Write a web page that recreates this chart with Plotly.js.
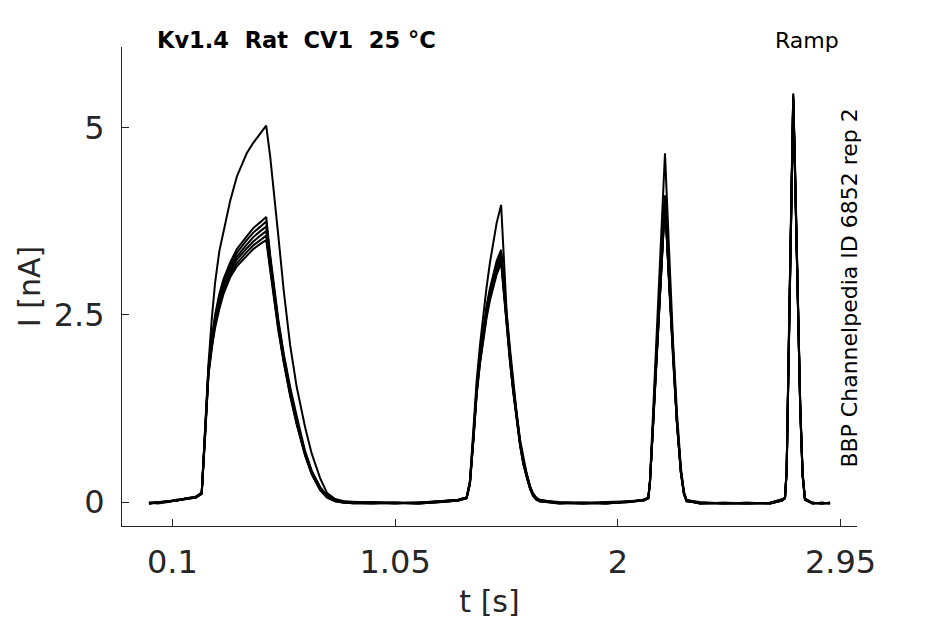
<!DOCTYPE html>
<html>
<head>
<meta charset="utf-8">
<script src="https://cdn.plot.ly/plotly-3.0.1.min.js"></script>
<style>
  body { margin: 0; background: #fff; }
  #chart { width: 945px; height: 624px; }
</style>
</head>
<body>
<div id="chart"></div>
<script>
// shared time base [s]
var t = [
  0.0, 0.04, 0.08, 0.12, 0.16, 0.2, 0.225,
  0.239, 0.254, 0.268, 0.282, 0.3, 0.318, 0.346, 0.375, 0.417, 0.445, 0.475, 0.5,
  0.517, 0.535, 0.552, 0.575, 0.602, 0.63, 0.666, 0.694, 0.73, 0.76, 0.794, 0.83, 0.87,
  0.95, 1.05, 1.15, 1.25, 1.32, 1.355,
  1.369, 1.384, 1.398, 1.412, 1.426, 1.44, 1.454, 1.468, 1.483, 1.502,
  1.514, 1.526, 1.54, 1.553, 1.568, 1.583, 1.597, 1.611, 1.625, 1.638, 1.652, 1.667,
  1.75, 1.85, 1.95, 2.05, 2.11, 2.13,
  2.137, 2.151, 2.165, 2.183, 2.201,
  2.218, 2.236, 2.252, 2.269, 2.282, 2.293,
  2.35, 2.45, 2.55, 2.65, 2.7, 2.713,
  2.72, 2.731, 2.74, 2.748,
  2.755, 2.762, 2.769, 2.778, 2.788, 2.798,
  2.83, 2.87, 2.905
];

// current sweeps [nA]
var sweep1 = [
  -0.02, -0.01, 0.0, 0.02, 0.04, 0.06, 0.12,
  0.92, 1.85, 2.45, 2.93, 3.35, 3.62, 4.02, 4.35, 4.66, 4.8, 4.93, 5.03,
  4.62, 4.1, 3.55, 2.82, 2.1, 1.54, 1.0, 0.65, 0.32, 0.12, 0.04, 0.01, 0.0,
  -0.01, -0.02, -0.01, 0.01, 0.03, 0.06,
  0.29, 0.95, 1.63, 2.1, 2.52, 2.87, 3.19, 3.47, 3.73, 3.97,
  3.25, 2.52, 2.05, 1.63, 1.2, 0.83, 0.58, 0.38, 0.22, 0.12, 0.06, 0.03,
  -0.01, -0.02, -0.01, 0.0, 0.03, 0.06,
  0.3, 1.25, 2.3, 3.5, 4.66,
  3.4, 2.1, 1.2, 0.45, 0.14, 0.03,
  -0.01, -0.02, -0.02, -0.01, 0.02, 0.05,
  0.45, 2.52, 4.0, 5.46,
  4.6, 3.5, 2.52, 1.3, 0.4, 0.05,
  -0.01, -0.02, -0.01
];
var sweep2 = [
  -0.01, 0.0, 0.01, 0.02, 0.05, 0.07, 0.13,
  0.9, 1.8, 2.2, 2.5, 2.78, 2.98, 3.2, 3.38, 3.55, 3.66, 3.74, 3.81,
  3.3, 2.85, 2.43, 1.98, 1.54, 1.15, 0.68, 0.42, 0.2, 0.09, 0.03, 0.01, -0.01,
  0.0, -0.01, -0.02, 0.0, 0.02, 0.05,
  0.27, 0.9, 1.55, 1.98, 2.33, 2.62, 2.85, 3.05, 3.22, 3.37,
  2.9, 2.42, 1.98, 1.58, 1.17, 0.8, 0.55, 0.36, 0.21, 0.11, 0.05, 0.02,
  0.0, -0.01, -0.02, 0.01, 0.03, 0.05,
  0.28, 1.1, 2.05, 3.05, 4.1,
  3.05, 1.95, 1.1, 0.42, 0.12, 0.02,
  0.0, -0.02, -0.01, -0.02, 0.02, 0.05,
  0.44, 2.45, 3.95, 5.44,
  4.55, 3.45, 2.48, 1.28, 0.38, 0.04,
  -0.02, -0.01, -0.02
];
var sweep3 = [
  -0.02, -0.01, 0.01, 0.03, 0.04, 0.06, 0.12,
  0.88, 1.78, 2.17, 2.46, 2.74, 2.94, 3.16, 3.33, 3.5, 3.6, 3.68, 3.75,
  3.27, 2.82, 2.4, 1.95, 1.5, 1.1, 0.66, 0.41, 0.19, 0.08, 0.02, 0.0, -0.01,
  -0.01, -0.02, -0.01, 0.01, 0.03, 0.06,
  0.26, 0.88, 1.52, 1.95, 2.3, 2.58, 2.81, 3.0, 3.17, 3.33,
  2.87, 2.4, 1.95, 1.56, 1.15, 0.79, 0.54, 0.35, 0.2, 0.1, 0.05, 0.02,
  -0.01, -0.01, -0.02, 0.0, 0.02, 0.06,
  0.28, 1.08, 2.03, 3.02, 4.08,
  3.03, 1.93, 1.08, 0.41, 0.12, 0.02,
  -0.02, -0.01, -0.02, -0.01, 0.03, 0.06,
  0.43, 2.43, 3.93, 5.42,
  4.52, 3.43, 2.46, 1.27, 0.37, 0.04,
  -0.01, -0.02, -0.01
];
var sweep4 = [
  -0.01, -0.02, 0.0, 0.02, 0.04, 0.07, 0.12,
  0.86, 1.76, 2.14, 2.42, 2.7, 2.9, 3.12, 3.28, 3.44, 3.54, 3.62, 3.68,
  3.22, 2.78, 2.37, 1.92, 1.48, 1.08, 0.65, 0.4, 0.18, 0.07, 0.02, 0.0, -0.01,
  -0.02, -0.01, -0.02, 0.0, 0.02, 0.05,
  0.25, 0.86, 1.5, 1.92, 2.27, 2.55, 2.78, 2.97, 3.13, 3.3,
  2.84, 2.37, 1.93, 1.54, 1.13, 0.78, 0.53, 0.34, 0.2, 0.1, 0.04, 0.01,
  -0.02, -0.01, -0.01, 0.01, 0.02, 0.05,
  0.27, 1.07, 2.01, 3.0, 4.06,
  3.0, 1.91, 1.07, 0.4, 0.11, 0.01,
  -0.01, -0.02, -0.01, -0.02, 0.02, 0.05,
  0.42, 2.41, 3.9, 5.4,
  4.5, 3.41, 2.44, 1.25, 0.36, 0.03,
  -0.02, -0.01, -0.02
];
var sweep5 = [
  -0.02, -0.01, 0.01, 0.02, 0.05, 0.06, 0.11,
  0.85, 1.74, 2.11, 2.39, 2.66, 2.86, 3.08, 3.24, 3.39, 3.48, 3.56, 3.62,
  3.18, 2.75, 2.34, 1.9, 1.46, 1.06, 0.64, 0.39, 0.17, 0.07, 0.02, -0.01, -0.01,
  -0.01, -0.02, -0.01, 0.01, 0.03, 0.06,
  0.25, 0.85, 1.48, 1.9, 2.24, 2.52, 2.75, 2.94, 3.1, 3.27,
  2.81, 2.35, 1.91, 1.52, 1.12, 0.77, 0.52, 0.33, 0.19, 0.09, 0.04, 0.01,
  -0.01, -0.02, -0.01, 0.0, 0.03, 0.06,
  0.27, 1.06, 1.99, 2.97, 4.04,
  2.98, 1.9, 1.06, 0.39, 0.11, 0.02,
  -0.02, -0.02, -0.01, -0.01, 0.02, 0.06,
  0.42, 2.39, 3.88, 5.38,
  4.48, 3.4, 2.43, 1.24, 0.36, 0.04,
  -0.01, -0.02, -0.01
];
var sweep6 = [
  -0.01, -0.01, 0.0, 0.03, 0.04, 0.07, 0.12,
  0.84, 1.72, 2.08, 2.36, 2.62, 2.82, 3.04, 3.19, 3.34, 3.43, 3.5, 3.56,
  3.14, 2.72, 2.31, 1.88, 1.44, 1.05, 0.63, 0.38, 0.17, 0.06, 0.01, 0.0, -0.02,
  -0.02, -0.01, -0.02, 0.0, 0.02, 0.05,
  0.24, 0.84, 1.46, 1.87, 2.21, 2.49, 2.72, 2.91, 3.07, 3.23,
  2.78, 2.33, 1.89, 1.5, 1.11, 0.76, 0.51, 0.33, 0.19, 0.09, 0.04, 0.01,
  -0.02, -0.01, -0.02, 0.01, 0.02, 0.05,
  0.26, 1.05, 1.97, 2.95, 4.02,
  2.96, 1.88, 1.05, 0.39, 0.1, 0.01,
  -0.01, -0.02, -0.02, -0.01, 0.03, 0.05,
  0.41, 2.37, 3.86, 5.36,
  4.46, 3.38, 2.41, 1.23, 0.35, 0.03,
  -0.02, -0.01, -0.02
];
var sweep7 = [
  -0.02, -0.01, 0.01, 0.02, 0.05, 0.06, 0.11,
  0.83, 1.7, 2.05, 2.33, 2.58, 2.78, 3.0, 3.15, 3.29, 3.38, 3.45, 3.5,
  3.1, 2.69, 2.29, 1.86, 1.42, 1.04, 0.62, 0.37, 0.16, 0.06, 0.01, -0.01, -0.01,
  -0.01, -0.02, -0.01, 0.01, 0.03, 0.06,
  0.24, 0.83, 1.44, 1.85, 2.18, 2.46, 2.69, 2.88, 3.04, 3.2,
  2.75, 2.3, 1.87, 1.49, 1.1, 0.75, 0.5, 0.32, 0.18, 0.08, 0.03, 0.01,
  -0.01, -0.02, -0.01, 0.0, 0.03, 0.06,
  0.26, 1.04, 1.95, 2.93, 4.0,
  2.94, 1.87, 1.04, 0.38, 0.1, 0.02,
  -0.02, -0.01, -0.02, -0.02, 0.02, 0.06,
  0.41, 2.35, 3.84, 5.34,
  4.44, 3.36, 2.4, 1.22, 0.35, 0.04,
  -0.01, -0.02, -0.01
];

var sweeps = [sweep1, sweep2, sweep3, sweep4, sweep5, sweep6, sweep7];

var xTicks = [0.1, 1.05, 2, 2.95];
var xTickText = ['0.1', '1.05', '2', '2.95'];
var yTicks = [0, 2.5, 5];
var yTickText = ['0', '2.5', '5'];

var traces = sweeps.map(function (s) {
  return {
    x: t,
    y: s,
    type: 'scatter',
    mode: 'lines',
    line: {color: '#000000', width: 2},
    hoverinfo: 'skip'
  };
});

var axisColor = '#262626';
var font = 'DejaVu Sans, sans-serif';

var layout = {
  width: 945,
  height: 624,
  margin: {l: 122, r: 88, t: 47, b: 98},
  paper_bgcolor: '#ffffff',
  plot_bgcolor: '#ffffff',
  showlegend: false,
  font: {family: font, color: axisColor},
  xaxis: {
    range: [-0.115, 3.02],
    tickvals: xTicks,
    ticktext: xTickText,
    ticks: 'inside',
    ticklen: 7,
    tickcolor: axisColor,
    showline: true,
    linecolor: axisColor,
    linewidth: 1,
    showgrid: false,
    zeroline: false,
    tickfont: {size: 32, color: axisColor},
    ticklabelstandoff: 8,
    title: {text: 't [s]', font: {size: 30, color: axisColor}, standoff: 10}
  },
  yaxis: {
    range: [-0.32, 6.08],
    tickvals: yTicks,
    ticktext: yTickText,
    ticks: 'inside',
    ticklen: 7,
    tickcolor: axisColor,
    showline: true,
    linecolor: axisColor,
    linewidth: 1,
    showgrid: false,
    zeroline: false,
    tickfont: {size: 32, color: axisColor},
    ticklabelstandoff: 10,
    title: {text: 'I [nA]', font: {size: 30, color: axisColor}, standoff: 4}
  },
  annotations: [
    {
      xref: 'paper', yref: 'paper', x: 0.238, y: 1.0146,
      xanchor: 'center', yanchor: 'middle', showarrow: false,
      text: '<b>Kv1.4\u00a0\u00a0Rat\u00a0\u00a0CV1\u00a0\u00a025 °C</b>',
      font: {size: 22.5, color: '#000000', family: font}
    },
    {
      xref: 'paper', yref: 'paper', x: 0.932, y: 1.0146,
      xanchor: 'center', yanchor: 'middle', showarrow: false,
      text: 'Ramp',
      font: {size: 22, color: '#000000', family: font}
    },
    {
      xref: 'paper', yref: 'paper', x: 0.99, y: 0.497,
      xanchor: 'center', yanchor: 'middle', showarrow: false,
      textangle: -90,
      text: 'BBP Channelpedia ID 6852 rep 2',
      font: {size: 22, color: '#000000', family: font}
    }
  ]
};

Plotly.newPlot('chart', traces, layout, {staticPlot: true, displayModeBar: false});
</script>
</body>
</html>
